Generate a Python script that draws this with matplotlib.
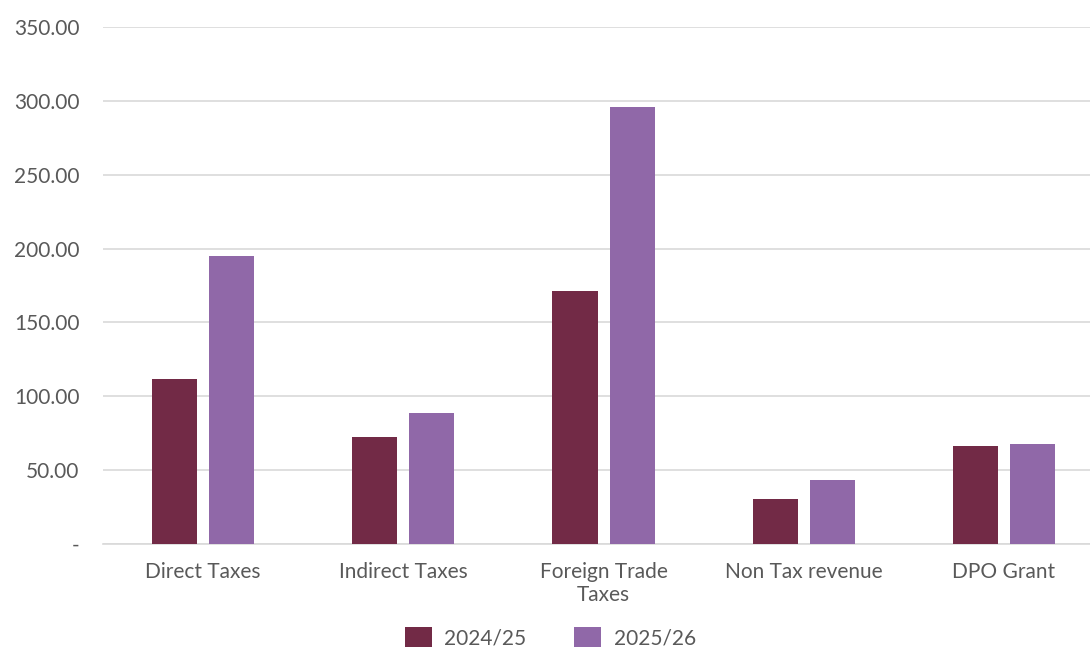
import matplotlib.pyplot as plt
import numpy as np
from matplotlib.ticker import FuncFormatter

plt.rcParams['font.family'] = ['Lato', 'DejaVu Sans']

categories = ['Direct Taxes', 'Indirect Taxes', 'Foreign Trade\nTaxes', 'Non Tax revenue', 'DPO Grant']
fy_2024_25 = [111.5, 72.2, 171.5, 30.7, 66.1]
fy_2025_26 = [195.0, 88.5, 295.6, 43.5, 67.5]
series_labels = ['2024/25', '2025/26']
colors = ['#722A46', '#9068A8']

fig = plt.figure(figsize=(10.9, 6.48), dpi=100)
ax = fig.add_axes([0.0945, 0.1605, 0.9055, 0.7978])

x = np.arange(len(categories))
width = 0.225
offset = 0.1425
ax.bar(x - offset, fy_2024_25, width, color=colors[0], label=series_labels[0], zorder=3)
ax.bar(x + offset, fy_2025_26, width, color=colors[1], label=series_labels[1], zorder=3)

ax.set_ylim(0, 350)
ax.set_xlim(-0.5, 4.43)
ax.set_yticks(np.arange(0, 351, 50))
ax.yaxis.set_major_formatter(FuncFormatter(lambda v, _: '-' if v == 0 else f'{v:.2f}'))
ax.set_xticks(x)
ax.set_xticklabels(categories, linespacing=1.2)

ax.grid(axis='y', color='#D9D9D9', linewidth=1.2, zorder=0)
for side in ['top', 'right', 'left']:
    ax.spines[side].set_visible(False)
ax.spines['bottom'].set_color('#D9D9D9')
ax.spines['bottom'].set_linewidth(1.2)

ax.tick_params(axis='y', length=0, pad=17, labelsize=15, labelcolor='#595959')
ax.tick_params(axis='x', length=0, pad=13, labelsize=15, labelcolor='#595959')

fig.legend(loc='center', ncol=2, frameon=False, fontsize=15,
           labelcolor='#595959', bbox_to_anchor=(0.505, 0.016),
           handlelength=1.3, handleheight=1.05, handletextpad=0.6,
           columnspacing=2.3, borderpad=0.1)

plt.savefig('out.png')
plt.close()
